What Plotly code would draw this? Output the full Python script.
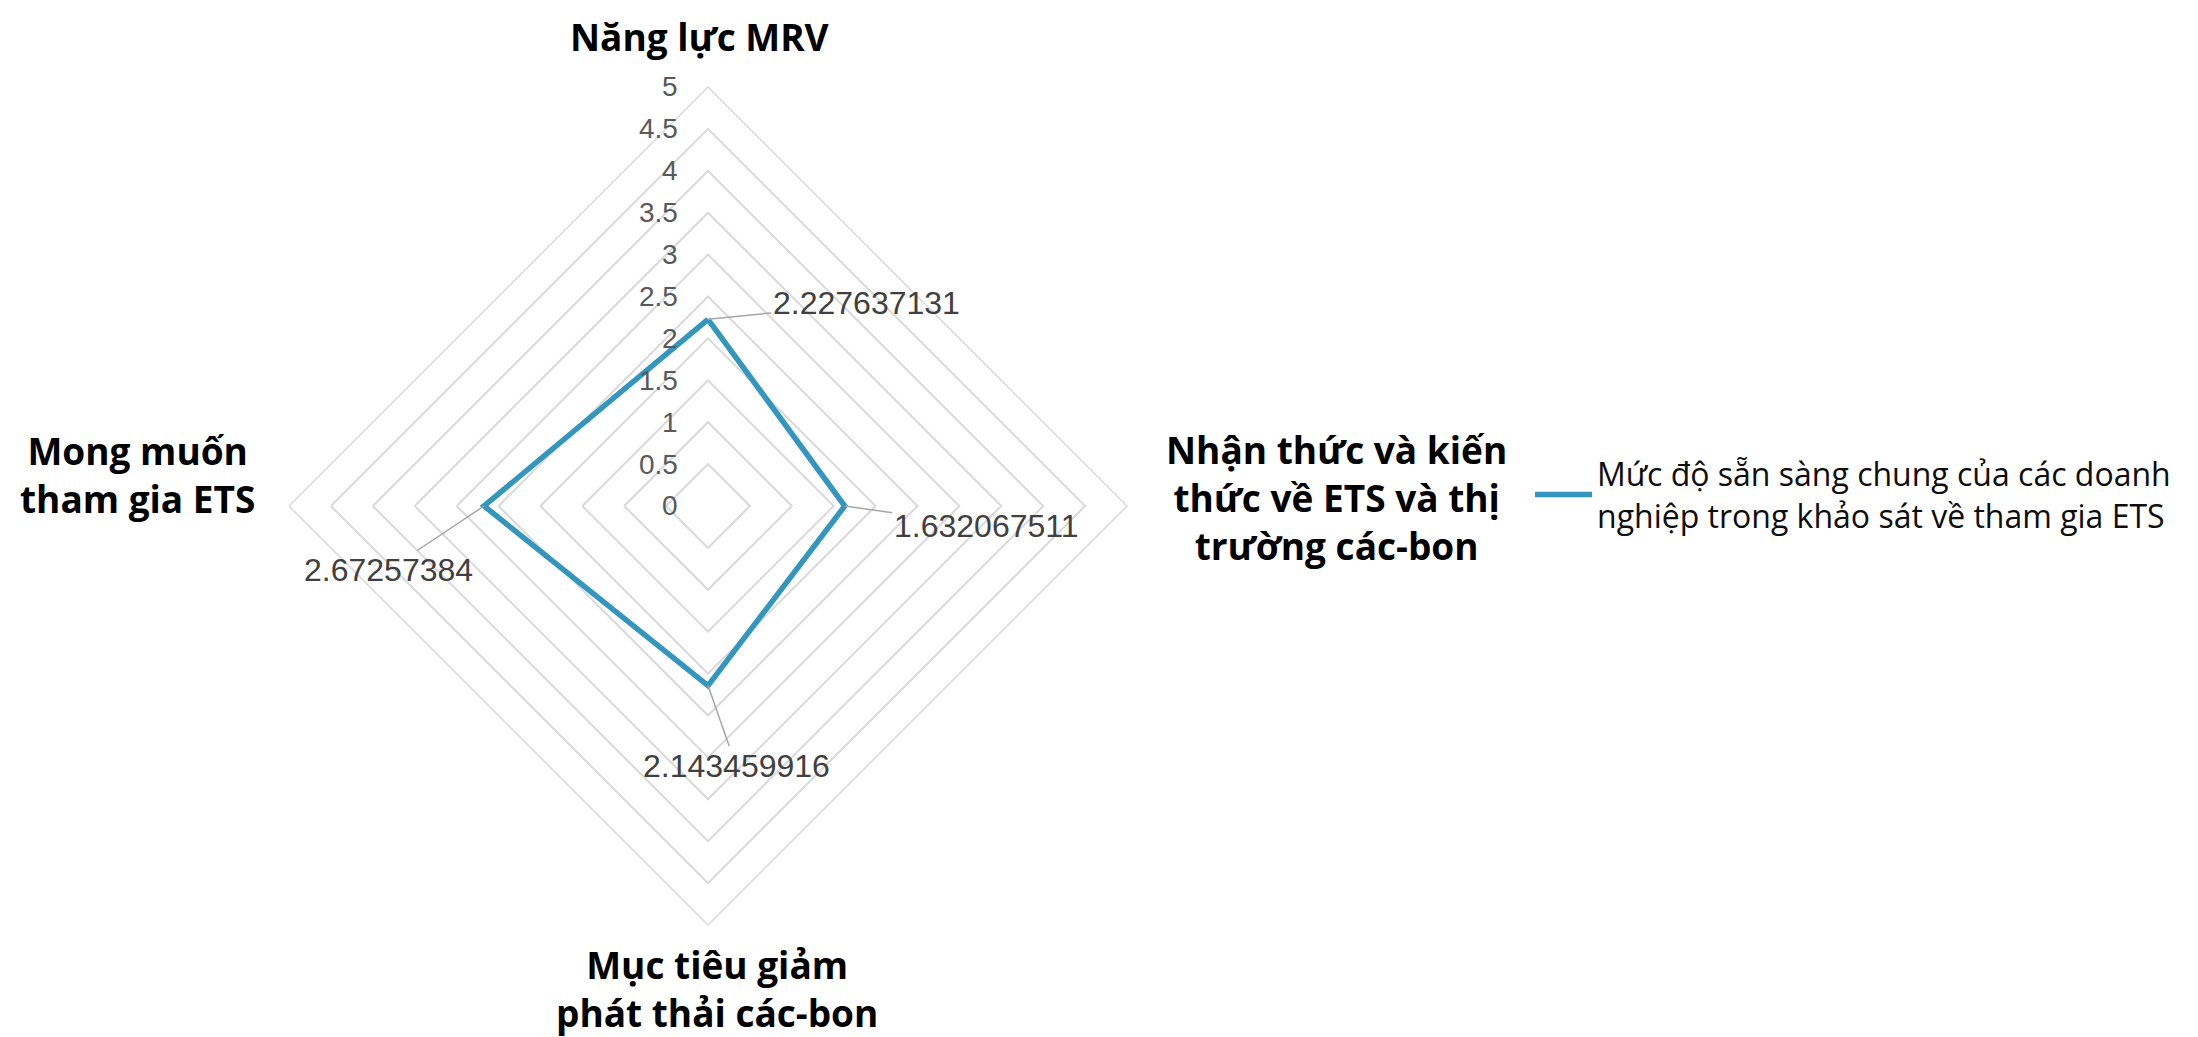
import plotly.graph_objects as go

# ---- data ----
categories = [
    "Năng lực MRV",
    "Nhận thức và kiến thức về ETS và thị trường các-bon",
    "Mục tiêu giảm phát thải các-bon",
    "Mong muốn tham gia ETS",
]
category_labels = [
    "Năng lực MRV",
    "Nhận thức và kiến<br>thức về ETS và thị<br>trường các-bon",
    "Mục tiêu giảm<br>phát thải các-bon",
    "Mong muốn<br>tham gia ETS",
]
values = [2.227637131, 1.632067511, 2.143459916, 2.67257384]
value_labels = ["2.227637131", "1.632067511", "2.143459916", "2.67257384"]
radial_ticks = [0, 0.5, 1, 1.5, 2, 2.5, 3, 3.5, 4, 4.5, 5]
radial_tick_labels = ["0", "0.5", "1", "1.5", "2", "2.5", "3", "3.5", "4", "4.5", "5"]
series_name = "Mức độ sẵn sàng chung của các doanh<br>nghiệp trong khảo sát về tham gia ETS"

W, H = 2198, 1037
cx, cy, R = 700, 498, 419
dom_x = [(cx - R) / W, (cx + R) / W]
dom_y = [(H - cy - R) / H, (H - cy + R) / H]

GRID = "#d9d9d9"
LINE = "#3396BE"

fig = go.Figure()
fig.add_trace(go.Scatterpolar(
    r=values + values[:1],
    theta=categories + categories[:1],
    mode="lines",
    line=dict(color=LINE, width=5.5),
    name=series_name,
    hoverinfo="skip",
))
# invisible cartesian helper trace so the overlay axes exist
fig.add_trace(go.Scatter(x=[0], y=[0], mode="markers", marker=dict(opacity=0),
                         showlegend=False, hoverinfo="skip", xaxis="x", yaxis="y"))

fig.update_layout(
    width=W, height=H,
    margin=dict(l=0, r=0, t=0, b=0),
    paper_bgcolor="white", plot_bgcolor="rgba(0,0,0,0)",
    polar=dict(
        domain=dict(x=dom_x, y=dom_y),
        bgcolor="rgba(0,0,0,0)",
        gridshape="linear",
        radialaxis=dict(range=[0, 5], tickvals=radial_ticks, showgrid=True,
                        gridcolor=GRID, gridwidth=1.5, showline=False,
                        showticklabels=False, ticks=""),
        angularaxis=dict(categoryarray=categories, categoryorder="array",
                         rotation=90, direction="clockwise",
                         showgrid=False, showline=True, linecolor=GRID, linewidth=1.5,
                         showticklabels=False, ticks=""),
    ),
    xaxis=dict(domain=dom_x, range=[-5, 5], visible=False, fixedrange=True),
    yaxis=dict(domain=dom_y, range=[-5, 5], visible=False, fixedrange=True),
    showlegend=True,
    legend=dict(x=1522 / W, y=1 - 487 / H, xanchor="left", yanchor="middle",
                font=dict(family="Open Sans", size=32, color="#0d0d0d"),
                bgcolor="rgba(0,0,0,0)", itemwidth=57),
)

annotations = []
# radial tick labels
for t, lab in zip(radial_ticks, radial_tick_labels):
    annotations.append(dict(x=0, y=t, xref="x", yref="y", text=lab, showarrow=False,
                            xanchor="right", yanchor="middle", xshift=-28,
                            font=dict(family="Liberation Sans, Arial", size=28, color="#595959")))

# data labels with leader lines
dirs = [(0, 1), (1, 0), (0, -1), (-1, 0)]
offsets = [(158, -16), (141, 20), (28, 80), (-96, 64)]
for v, lab, (dx, dy), (ax, ay) in zip(values, value_labels, dirs, offsets):
    annotations.append(dict(x=dx * v, y=dy * v, xref="x", yref="y", text=lab,
                            showarrow=True, arrowhead=0, arrowwidth=1.5, arrowcolor="#a6a6a6",
                            ax=ax, ay=ay, standoff=0,
                            font=dict(family="Liberation Sans, Arial", size=32, color="#404040")))

# category labels
cat_pos = [(692, 28), (1328, 490), (709, 980), (129, 467)]
for lab, (px, py) in zip(category_labels, cat_pos):
    annotations.append(dict(x=px / W, y=1 - py / H, xref="paper", yref="paper", text="<b>" + lab + "</b>",
                            showarrow=False, xanchor="center", yanchor="middle", align="center",
                            font=dict(family="Open Sans", size=37, color="#000000")))

fig.update_layout(annotations=annotations)
fig.write_html("out.html")
